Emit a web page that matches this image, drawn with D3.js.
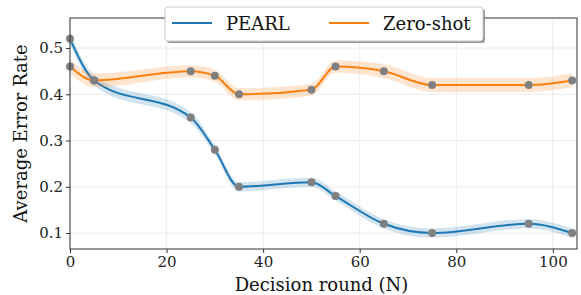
<!DOCTYPE html>
<html>
<head>
<meta charset="utf-8">
<script src="https://cdn.jsdelivr.net/npm/d3@7"></script>
<style>
  body { margin: 0; background: #fff; }
  svg { font-family: "DejaVu Serif", serif; }
</style>
</head>
<body>
<svg id="chart" width="581" height="295"></svg>
<script>
// Data
var rounds = [0, 5, 25, 30, 35, 50, 55, 65, 75, 95, 104];
var pearl = [0.52, 0.43, 0.35, 0.28, 0.20, 0.21, 0.18, 0.12, 0.10, 0.12, 0.10];
var pearlErr = [0.012, 0.012, 0.012, 0.01, 0.01, 0.01, 0.01, 0.01, 0.01, 0.01, 0.01];
var zeroShot = [0.46, 0.43, 0.45, 0.44, 0.40, 0.41, 0.46, 0.45, 0.42, 0.42, 0.43];
var zeroErr = [0.015, 0.015, 0.013, 0.013, 0.013, 0.013, 0.013, 0.015, 0.015, 0.015, 0.015];
var xTicks = [0, 20, 40, 60, 80, 100];
var yTicks = [0.1, 0.2, 0.3, 0.4, 0.5];
var seriesNames = ["PEARL", "Zero-shot"];
var colors = ["#1f77b4", "#ff7f0e"];

var margin = {top: 18, right: 4, bottom: 46, left: 70},
    W = 581, H = 295;

var svg = d3.select("#chart");

var x = d3.scaleLinear().domain([0, 105]).range([margin.left, W - margin.right]);
var y = d3.scaleLinear().domain([0.0655, 0.565]).range([H - margin.bottom, margin.top]);

// grid
svg.append("g").selectAll("line").data(xTicks).enter().append("line")
    .attr("x1", function(d) { return x(d); }).attr("x2", function(d) { return x(d); })
    .attr("y1", y.range()[0]).attr("y2", y.range()[1])
    .attr("stroke", "#b0b0b0").attr("stroke-opacity", 0.3).attr("stroke-width", 0.8);
svg.append("g").selectAll("line").data(yTicks).enter().append("line")
    .attr("y1", function(d) { return y(d); }).attr("y2", function(d) { return y(d); })
    .attr("x1", x.range()[0]).attr("x2", x.range()[1])
    .attr("stroke", "#b0b0b0").attr("stroke-opacity", 0.3).attr("stroke-width", 0.8);

var series = [
  {name: seriesNames[0], vals: pearl, err: pearlErr, color: colors[0]},
  {name: seriesNames[1], vals: zeroShot, err: zeroErr, color: colors[1]}
];

series.forEach(function(s) {
  var pts = rounds.map(function(r, i) { return {x: r, y: s.vals[i], e: s.err[i]}; });

  var area = d3.area().curve(d3.curveMonotoneX)
      .x(function(d) { return x(d.x); })
      .y0(function(d) { return y(d.y - d.e); })
      .y1(function(d) { return y(d.y + d.e); });
  svg.append("path").datum(pts).attr("d", area)
      .attr("fill", s.color).attr("fill-opacity", 0.2);

  var line = d3.line().curve(d3.curveMonotoneX)
      .x(function(d) { return x(d.x); })
      .y(function(d) { return y(d.y); });
  svg.append("path").datum(pts).attr("d", line)
      .attr("fill", "none").attr("stroke", s.color).attr("stroke-width", 2);

  s.pts = pts;
});

// markers on top
series.forEach(function(s) {
  svg.append("g").selectAll("circle").data(s.pts).enter().append("circle")
      .attr("cx", function(d) { return x(d.x); })
      .attr("cy", function(d) { return y(d.y); })
      .attr("r", 4)
      .attr("fill", "#808080");
});

// axes
var xAxis = svg.append("g")
    .attr("transform", "translate(0," + y.range()[0] + ")")
    .call(d3.axisBottom(x).tickValues(xTicks).tickSize(4).tickPadding(3).tickFormat(d3.format("d")));
var yAxis = svg.append("g")
    .attr("transform", "translate(" + x.range()[0] + ",0)")
    .call(d3.axisLeft(y).tickValues(yTicks).tickSize(4).tickPadding(3).tickFormat(d3.format(".1f")));
[xAxis, yAxis].forEach(function(a) {
  a.selectAll("text").attr("font-family", "DejaVu Serif").attr("font-size", 15).attr("fill", "#222");
  a.selectAll("line").attr("stroke", "#333");
  a.select(".domain").remove();
});

// frame
svg.append("rect")
    .attr("x", x.range()[0]).attr("y", y.range()[1])
    .attr("width", x.range()[1] - x.range()[0])
    .attr("height", y.range()[0] - y.range()[1])
    .attr("fill", "none").attr("stroke", "#333").attr("stroke-width", 1);

// axis labels
svg.append("text")
    .attr("x", (x.range()[0] + x.range()[1]) / 2 - 2).attr("y", 291)
    .attr("text-anchor", "middle").attr("font-size", 18).attr("fill", "#111")
    .text("Decision round (N)");
svg.append("text")
    .attr("transform", "translate(27," + ((y.range()[0] + y.range()[1]) / 2) + ") rotate(-90)")
    .attr("text-anchor", "middle").attr("font-size", 18).attr("fill", "#111")
    .text("Average Error Rate");

// legend
var lg = svg.append("g");
lg.append("rect").attr("x", 167).attr("y", 9).attr("width", 318).attr("height", 34)
    .attr("rx", 3).attr("fill", "#7f7f7f").attr("fill-opacity", 0.8);
lg.append("rect").attr("x", 165).attr("y", 7).attr("width", 318).attr("height", 34)
    .attr("rx", 3).attr("fill", "#fff").attr("stroke", "#cccccc").attr("stroke-width", 1);
var entryX = [172, 329];
series.forEach(function(s, i) {
  lg.append("line").attr("x1", entryX[i]).attr("x2", entryX[i] + 40)
      .attr("y1", 23).attr("y2", 23).attr("stroke", s.color).attr("stroke-width", 2);
  lg.append("text").attr("x", entryX[i] + 54).attr("y", 29.5)
      .attr("font-size", 18).attr("fill", "#111").text(s.name);
});
</script>
</body>
</html>
